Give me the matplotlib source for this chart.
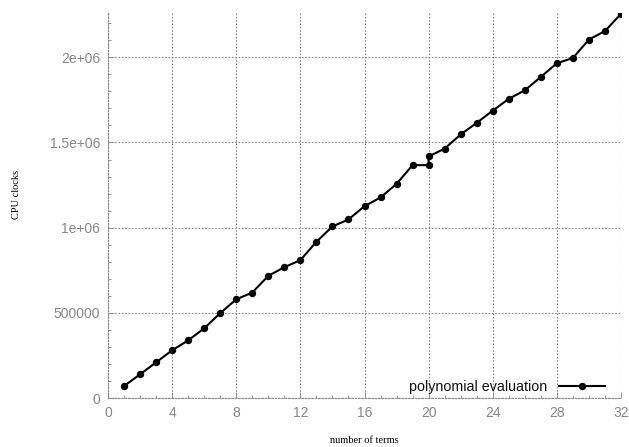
import numpy as np
import matplotlib.pyplot as plt
from matplotlib.ticker import MultipleLocator, FuncFormatter

# number of terms vs. cpu clocks (x=20 was measured twice)
terms = [1, 2, 3, 4, 5, 6, 7, 8, 9, 10, 11, 12, 13, 14, 15, 16, 17, 18, 19,
         20, 20, 21, 22, 23, 24, 25, 26, 27, 28, 29, 30, 31, 32]
clocks = [70000, 139000, 209000, 280000, 338000, 409000, 498000, 579000,
          619000, 717000, 768000, 809000, 917000, 1007000, 1048000, 1126000,
          1177000, 1257000, 1367000, 1367000, 1418000, 1464000, 1547000,
          1615000, 1687000, 1756000, 1806000, 1885000, 1965000, 1996000,
          2104000, 2154000, 2255000]

gray = '#888888'

fig = plt.figure(figsize=(6.29, 4.47), dpi=100)
ax = fig.add_axes([108 / 629, 1 - 398 / 447, 513 / 629, 385 / 447])

ax.plot(terms, clocks, color='black', lw=1.5, marker='o', ms=4.3,
        label='polynomial evaluation')

ax.set_xlim(0, 32)
ax.set_ylim(0, 2.26e6)

ax.xaxis.set_major_locator(MultipleLocator(4))
ax.xaxis.set_minor_locator(MultipleLocator(1))
ax.yaxis.set_major_locator(MultipleLocator(500000))
ax.yaxis.set_minor_locator(MultipleLocator(100000))


def gfmt(v, pos):
    return '%g' % v


ax.yaxis.set_major_formatter(FuncFormatter(gfmt))

ax.grid(True, which='major', color=gray, ls=(0, (1.5, 1.5)), lw=0.8)
for s in ['top', 'right']:
    ax.spines[s].set_visible(False)
for s in ['left', 'bottom']:
    ax.spines[s].set_color(gray)
    ax.spines[s].set_linestyle((0, (1.5, 1.5)))
    ax.spines[s].set_linewidth(0.8)

ax.tick_params(which='both', direction='in', color=gray, labelcolor=gray,
               labelsize=10)
ax.tick_params(which='major', length=4, width=0.6)
ax.tick_params(which='minor', length=2, width=0.6)
ax.tick_params(axis='x', pad=6)
ax.tick_params(axis='y', pad=5.5)
for lab in ax.get_xticklabels() + ax.get_yticklabels():
    lab.set_family('Liberation Sans')

ax.set_xlabel('number of terms', family='Liberation Serif', fontsize=7.5,
              labelpad=11)
ax.set_ylabel('CPU clocks', family='Liberation Serif', fontsize=7.5)
ax.yaxis.set_label_coords(-0.17, 0.53)

leg = ax.legend(loc='lower right', frameon=False, markerfirst=False,
                handlelength=3.2, bbox_to_anchor=(0.993, -0.022),
                prop={'family': 'Liberation Sans', 'size': 10.3})
for t in leg.get_texts():
    t.set_color('#111111')

fig.savefig('out.png', dpi=100)
